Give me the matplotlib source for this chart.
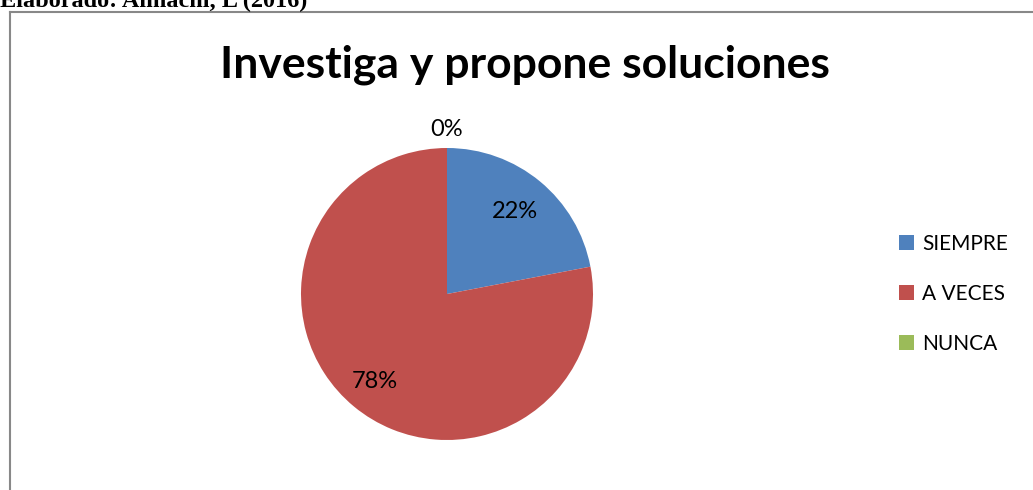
import numpy as np
import matplotlib
matplotlib.use("Agg")
import matplotlib.pyplot as plt
from matplotlib.lines import Line2D
from matplotlib.patches import Patch

categories = ['SIEMPRE', 'A VECES', 'NUNCA']
percentages = [22, 78, 0]
colors = ['#4F81BD', '#C0504D', '#9BBB59']
label_dist = [0.73, 0.78, 1.13]

plt.rcParams['font.family'] = ['Lato', 'DejaVu Sans']

W, H = 1033, 490
fig = plt.figure(figsize=(W / 100, H / 100), dpi=100)

# caption above the chart box (clipped by the top edge like the source)
fig.text(0, 1 - 7 / H, 'Elaborado: Almachi, L (2016)', family='Liberation Serif',
         fontweight='bold', fontsize=17.5, va='baseline', ha='left')

# chart border (top and left)
fig.add_artist(Line2D([10 / W, 1032 / W], [1 - 12 / H, 1 - 12 / H], color='#888888', lw=1.5))
fig.add_artist(Line2D([10 / W, 10 / W], [0, 1 - 12 / H], color='#888888', lw=1.5))

fig.text(525 / W, 1 - 65 / H, 'Investiga y propone soluciones', fontsize=32,
         fontweight='bold', ha='center', va='center')

cx, cy, r = 447, 294, 146
ax = fig.add_axes([(cx - r) / W, (H - cy - r) / H, 2 * r / W, 2 * r / H])
wedges, _ = ax.pie(percentages, colors=colors, startangle=90, counterclock=False,
                   radius=1, wedgeprops=dict(linewidth=0))
ax.set_xlim(-1, 1)
ax.set_ylim(-1, 1)
ax.axis('off')

for w, p, d in zip(wedges, percentages, label_dist):
    ang = np.deg2rad((w.theta1 + w.theta2) / 2)
    ax.text(d * np.cos(ang), d * np.sin(ang), f'{p}%', ha='center', va='center',
            fontsize=17, clip_on=False)

handles = [Patch(facecolor=c, edgecolor='none') for c in colors]
fig.legend(handles, categories, loc='center left', bbox_to_anchor=(880 / W, 1 - 294 / H),
           frameon=False, fontsize=15, handlelength=0.72, handleheight=0.72,
           handletextpad=0.4, labelspacing=1.45)

fig.savefig('out.png', dpi=100)
